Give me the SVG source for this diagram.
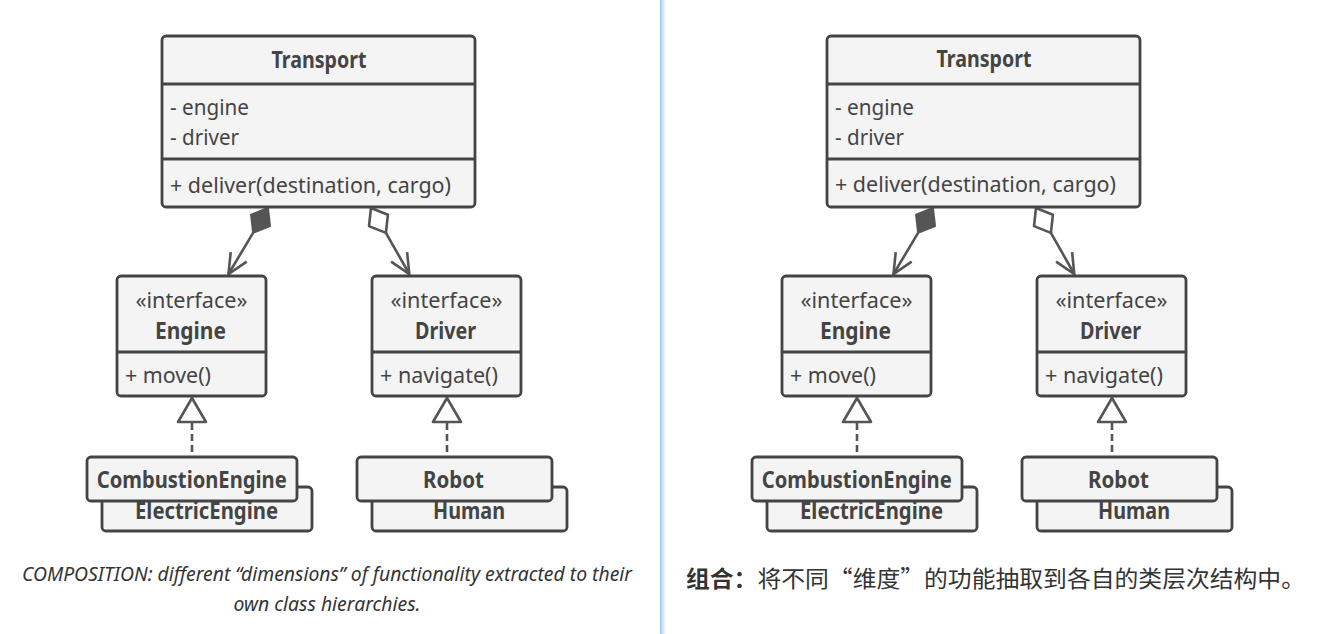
<svg xmlns="http://www.w3.org/2000/svg" width="1321" height="634" viewBox="0 0 1321 634">
<defs>
<linearGradient id="divg" x1="0" y1="0" x2="1" y2="0">
<stop offset="0" stop-color="#9cc6f2"/>
<stop offset="0.4" stop-color="#c9e0f9"/>
<stop offset="1" stop-color="#ffffff"/>
</linearGradient>
<style>
.box{fill:#f4f4f4;stroke:#444;stroke-width:2.8}
.div{stroke:#444;stroke-width:2.8;fill:none}
.t{font-family:"Noto Sans","Open Sans",sans-serif;font-size:22.5px;fill:#444}
.b{font-family:"Noto Sans","Open Sans",sans-serif;font-size:22.5px;font-weight:bold;fill:#444}
.m{text-anchor:middle}
.ln{stroke:#555;stroke-width:2.6;fill:none}
.dash{stroke:#555;stroke-width:2.6;fill:none;stroke-dasharray:7 4}
.fd{fill:#555;stroke:#555;stroke-width:2;stroke-linejoin:round}
.hd{fill:#fff;stroke:#555;stroke-width:2.6;stroke-linejoin:round}
.ht{fill:#fff;stroke:#555;stroke-width:2.6;stroke-linejoin:round}
.cap{font-family:"Noto Sans","Open Sans",sans-serif;font-size:19px;font-style:italic;fill:#333;text-anchor:middle}
.zh{font-family:"Noto Sans CJK SC","Noto Sans",sans-serif;font-size:22.5px;fill:#333}
</style>
</defs>
<rect width="1321" height="634" fill="#ffffff"/>
<rect x="660" y="0" width="6" height="634" fill="url(#divg)"/>

<g id="left">
<g id="connectors-left">
<polygon class="fd" points="268,208 270,226.1 253.1,232.9 251.1,214.8"/>
<line class="ln" x1="253.1" y1="232.9" x2="228.5" y2="274"/>
<polyline class="ln" points="246.7,261.6 228.5,274 230.7,252.1"/>
<polygon class="hd" points="371,208 387.9,214.8 385.9,232.9 369,226.1"/>
<line class="ln" x1="385.9" y1="232.9" x2="409.3" y2="274"/>
<polyline class="ln" points="391.1,261.6 409.3,274 407.1,252.1"/>
<line class="dash" x1="192" y1="423" x2="192" y2="456"/>
<polygon class="ht" points="192,398 206,422 178,422"/>
<line class="dash" x1="447" y1="423" x2="447" y2="456"/>
<polygon class="ht" points="447,398 461,422 433,422"/>
</g>
<g id="transport-left">
<rect class="box" x="162" y="36" width="313" height="171" rx="4"/>
<line class="div" x1="162" y1="84" x2="475" y2="84"/>
<line class="div" x1="162" y1="159" x2="475" y2="159"/>
<text class="b m" x="319" y="68" textLength="95" lengthAdjust="spacingAndGlyphs">Transport</text>
<text class="t" x="170" y="115" textLength="79" lengthAdjust="spacingAndGlyphs">- engine</text>
<text class="t" x="170" y="145" textLength="69" lengthAdjust="spacingAndGlyphs">- driver</text>
<text class="t" x="170" y="193" textLength="281" lengthAdjust="spacingAndGlyphs">+ deliver(destination, cargo)</text>
</g>
<g id="engine-left">
<rect class="box" x="117" y="276" width="149" height="120" rx="4"/>
<line class="div" x1="117" y1="352" x2="266" y2="352"/>
<text class="t m" x="191.5" y="308" textLength="112" lengthAdjust="spacingAndGlyphs">«interface»</text>
<text class="b m" x="190.5" y="339" textLength="71" lengthAdjust="spacingAndGlyphs">Engine</text>
<text class="t" x="125" y="383" textLength="86" lengthAdjust="spacingAndGlyphs">+ move()</text>
</g>
<g id="driver-left">
<rect class="box" x="372" y="276" width="149" height="120" rx="4"/>
<line class="div" x1="372" y1="352" x2="521" y2="352"/>
<text class="t m" x="446.5" y="308" textLength="112" lengthAdjust="spacingAndGlyphs">«interface»</text>
<text class="b m" x="445.5" y="339" textLength="61" lengthAdjust="spacingAndGlyphs">Driver</text>
<text class="t" x="380" y="383" textLength="118" lengthAdjust="spacingAndGlyphs">+ navigate()</text>
</g>
<g id="electric-left">
<rect class="box" x="102" y="487" width="210" height="44" rx="4"/>
<text class="b m" x="206.5" y="519" textLength="143" lengthAdjust="spacingAndGlyphs">ElectricEngine</text>
</g>
<g id="combustion-left">
<rect class="box" x="87" y="457" width="210" height="44" rx="4"/>
<text class="b m" x="191.7" y="488" textLength="190" lengthAdjust="spacingAndGlyphs">CombustionEngine</text>
</g>
<g id="human-left">
<rect class="box" x="372" y="487" width="195" height="44" rx="4"/>
<text class="b m" x="469" y="519" textLength="72" lengthAdjust="spacingAndGlyphs">Human</text>
</g>
<g id="robot-left">
<rect class="box" x="357" y="457" width="195" height="44" rx="4"/>
<text class="b m" x="453.5" y="488" textLength="61" lengthAdjust="spacingAndGlyphs">Robot</text>
</g>
<g id="caption-left">
<text class="cap" x="327" y="581" textLength="610" lengthAdjust="spacingAndGlyphs">COMPOSITION: different “dimensions” of functionality extracted to their</text>
<text class="cap" x="327" y="611" textLength="187" lengthAdjust="spacingAndGlyphs">own class hierarchies.</text>
</g>
</g>

<g id="right" transform="translate(665,0)">
<g id="connectors-right">
<polygon class="fd" points="268,208 270,226.1 253.1,232.9 251.1,214.8"/>
<line class="ln" x1="253.1" y1="232.9" x2="228.5" y2="274"/>
<polyline class="ln" points="246.7,261.6 228.5,274 230.7,252.1"/>
<polygon class="hd" points="371,208 387.9,214.8 385.9,232.9 369,226.1"/>
<line class="ln" x1="385.9" y1="232.9" x2="409.3" y2="274"/>
<polyline class="ln" points="391.1,261.6 409.3,274 407.1,252.1"/>
<line class="dash" x1="192" y1="423" x2="192" y2="456"/>
<polygon class="ht" points="192,398 206,422 178,422"/>
<line class="dash" x1="447" y1="423" x2="447" y2="456"/>
<polygon class="ht" points="447,398 461,422 433,422"/>
</g>
<g id="transport-right">
<rect class="box" x="162" y="36" width="313" height="171" rx="4"/>
<line class="div" x1="162" y1="84" x2="475" y2="84"/>
<line class="div" x1="162" y1="159" x2="475" y2="159"/>
<text class="b m" x="319" y="67" textLength="95" lengthAdjust="spacingAndGlyphs">Transport</text>
<text class="t" x="170" y="115" textLength="79" lengthAdjust="spacingAndGlyphs">- engine</text>
<text class="t" x="170" y="145" textLength="69" lengthAdjust="spacingAndGlyphs">- driver</text>
<text class="t" x="170" y="192" textLength="281" lengthAdjust="spacingAndGlyphs">+ deliver(destination, cargo)</text>
</g>
<g id="engine-right">
<rect class="box" x="117" y="276" width="149" height="120" rx="4"/>
<line class="div" x1="117" y1="352" x2="266" y2="352"/>
<text class="t m" x="191.5" y="308" textLength="112" lengthAdjust="spacingAndGlyphs">«interface»</text>
<text class="b m" x="190.5" y="339" textLength="71" lengthAdjust="spacingAndGlyphs">Engine</text>
<text class="t" x="125" y="383" textLength="86" lengthAdjust="spacingAndGlyphs">+ move()</text>
</g>
<g id="driver-right">
<rect class="box" x="372" y="276" width="149" height="120" rx="4"/>
<line class="div" x1="372" y1="352" x2="521" y2="352"/>
<text class="t m" x="446.5" y="308" textLength="112" lengthAdjust="spacingAndGlyphs">«interface»</text>
<text class="b m" x="445.5" y="339" textLength="61" lengthAdjust="spacingAndGlyphs">Driver</text>
<text class="t" x="380" y="383" textLength="118" lengthAdjust="spacingAndGlyphs">+ navigate()</text>
</g>
<g id="electric-right">
<rect class="box" x="102" y="487" width="210" height="44" rx="4"/>
<text class="b m" x="206.5" y="519" textLength="143" lengthAdjust="spacingAndGlyphs">ElectricEngine</text>
</g>
<g id="combustion-right">
<rect class="box" x="87" y="457" width="210" height="44" rx="4"/>
<text class="b m" x="191.7" y="488" textLength="190" lengthAdjust="spacingAndGlyphs">CombustionEngine</text>
</g>
<g id="human-right">
<rect class="box" x="372" y="487" width="195" height="44" rx="4"/>
<text class="b m" x="469" y="519" textLength="72" lengthAdjust="spacingAndGlyphs">Human</text>
</g>
<g id="robot-right">
<rect class="box" x="357" y="457" width="195" height="44" rx="4"/>
<text class="b m" x="453.5" y="488" textLength="61" lengthAdjust="spacingAndGlyphs">Robot</text>
</g>
</g>

<g id="caption-right">
<text class="zh" x="686" y="587" textLength="619" lengthAdjust="spacingAndGlyphs"><tspan font-weight="bold">组合：</tspan>将不同“维度”的功能抽取到各自的类层次结构中。</text>
</g>
</svg>
